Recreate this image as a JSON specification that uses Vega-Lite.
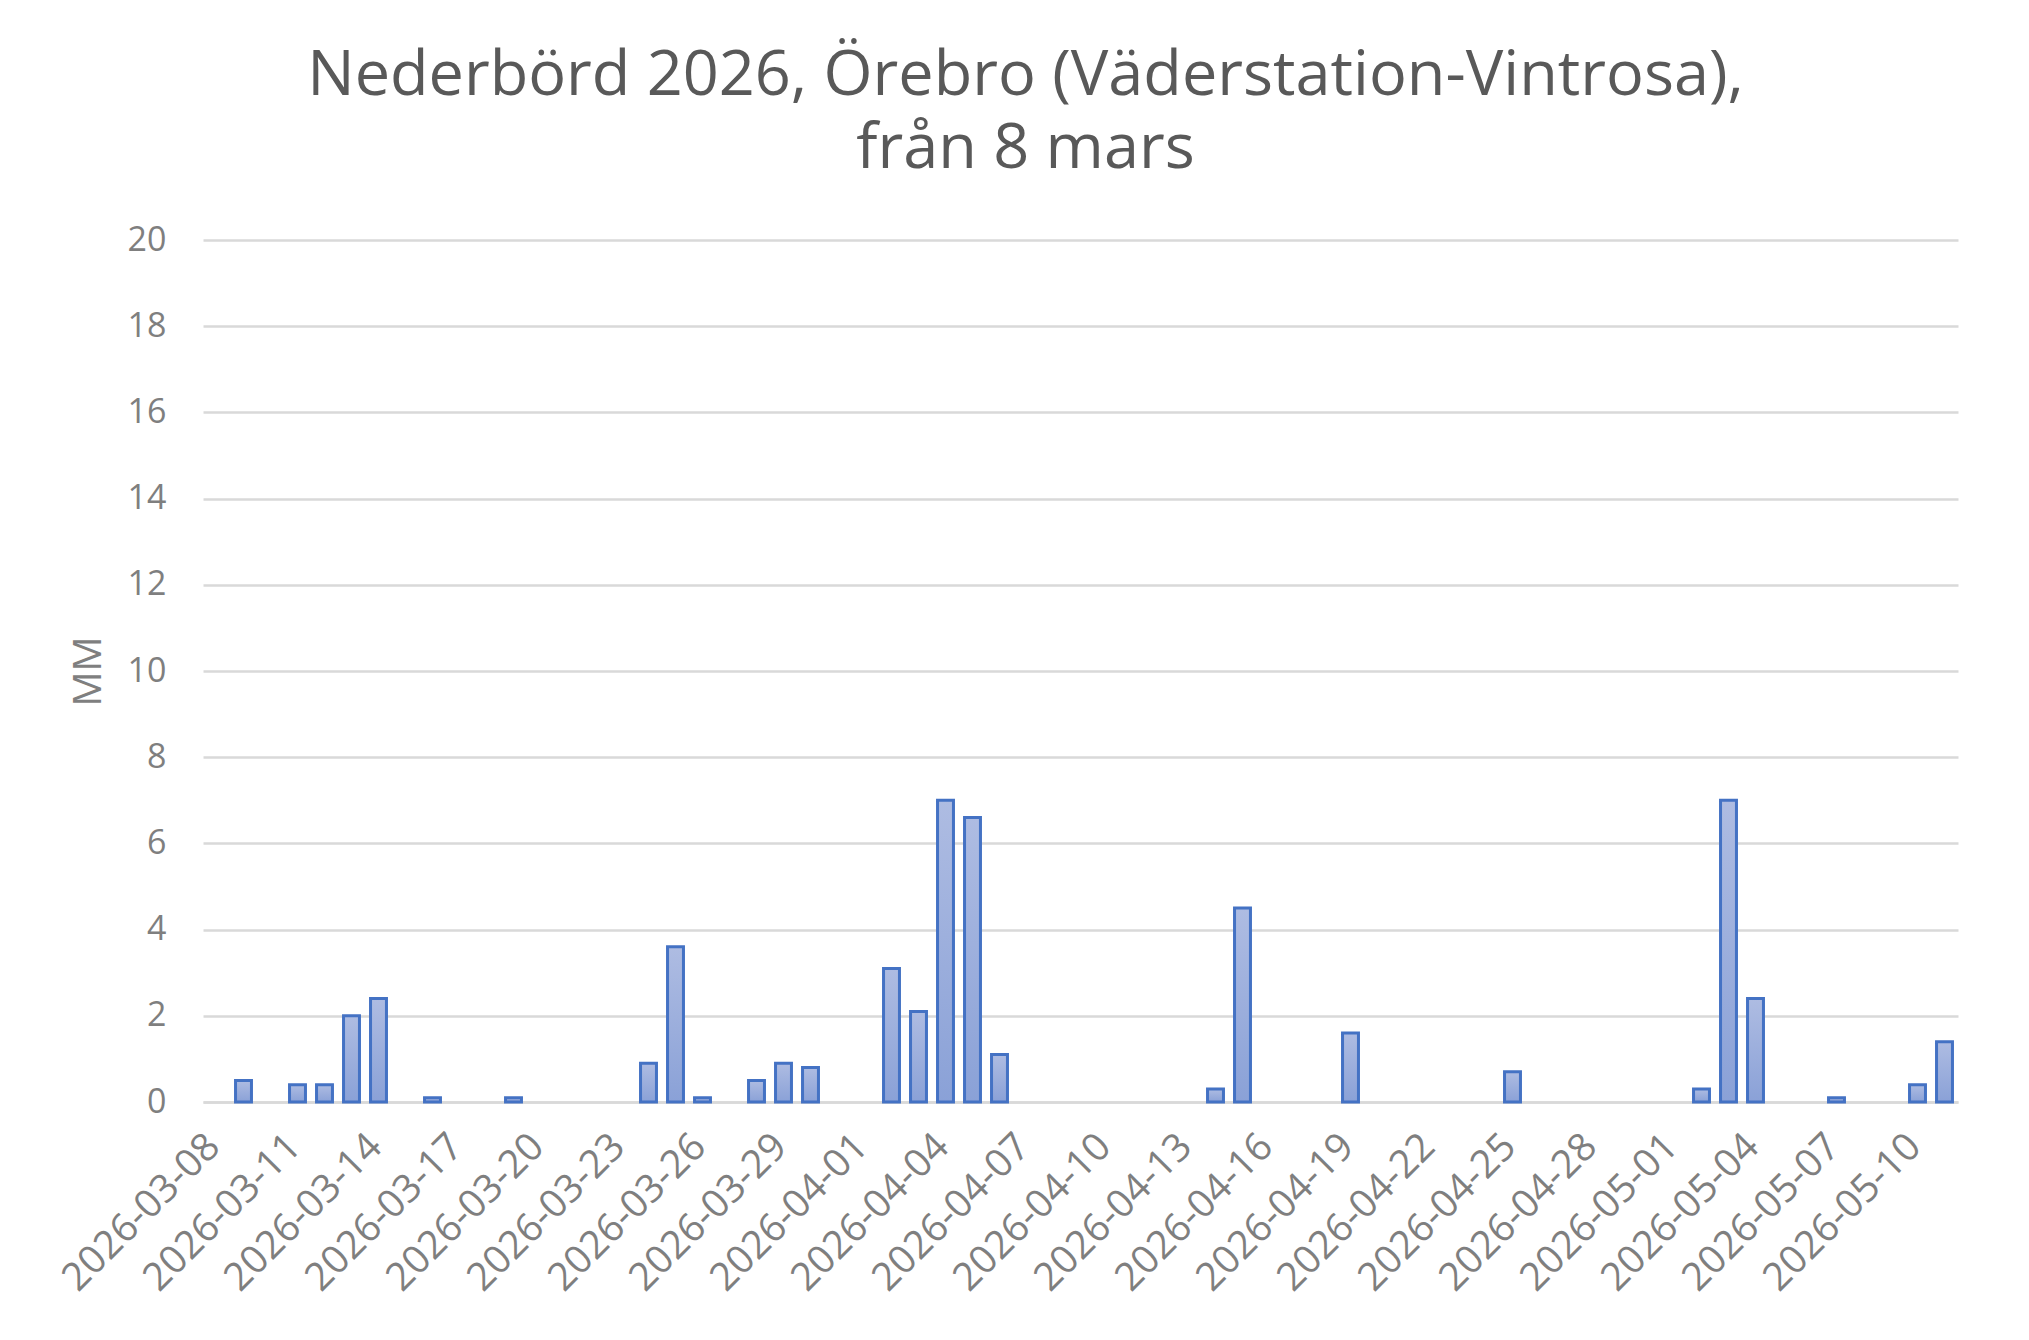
{
  "$schema": "https://vega.github.io/schema/vega-lite/v6.json",
  "autosize": {"type": "none"},
  "width": 1755,
  "height": 862,
  "padding": {"left": 203, "top": 240, "right": 71, "bottom": 238},
  "background": "white",
  "title": {
    "text": ["Nederbörd 2026, Örebro (Väderstation-Vintrosa),", "från 8 mars"],
    "font": "Open Sans",
    "fontSize": 63,
    "fontWeight": "normal",
    "color": "#595959",
    "lineHeight": 73,
    "anchor": "middle",
    "dx": -55,
    "offset": 42
  },
  "data": {
    "values": [
      {"date": "2026-03-08", "mm": 0},
      {"date": "2026-03-09", "mm": 0.5},
      {"date": "2026-03-10", "mm": 0},
      {"date": "2026-03-11", "mm": 0.4},
      {"date": "2026-03-12", "mm": 0.4},
      {"date": "2026-03-13", "mm": 2.0},
      {"date": "2026-03-14", "mm": 2.4},
      {"date": "2026-03-15", "mm": 0},
      {"date": "2026-03-16", "mm": 0.1},
      {"date": "2026-03-17", "mm": 0},
      {"date": "2026-03-18", "mm": 0},
      {"date": "2026-03-19", "mm": 0.1},
      {"date": "2026-03-20", "mm": 0},
      {"date": "2026-03-21", "mm": 0},
      {"date": "2026-03-22", "mm": 0},
      {"date": "2026-03-23", "mm": 0},
      {"date": "2026-03-24", "mm": 0.9},
      {"date": "2026-03-25", "mm": 3.6},
      {"date": "2026-03-26", "mm": 0.1},
      {"date": "2026-03-27", "mm": 0},
      {"date": "2026-03-28", "mm": 0.5},
      {"date": "2026-03-29", "mm": 0.9},
      {"date": "2026-03-30", "mm": 0.8},
      {"date": "2026-03-31", "mm": 0},
      {"date": "2026-04-01", "mm": 0},
      {"date": "2026-04-02", "mm": 3.1},
      {"date": "2026-04-03", "mm": 2.1},
      {"date": "2026-04-04", "mm": 7.0},
      {"date": "2026-04-05", "mm": 6.6},
      {"date": "2026-04-06", "mm": 1.1},
      {"date": "2026-04-07", "mm": 0},
      {"date": "2026-04-08", "mm": 0},
      {"date": "2026-04-09", "mm": 0},
      {"date": "2026-04-10", "mm": 0},
      {"date": "2026-04-11", "mm": 0},
      {"date": "2026-04-12", "mm": 0},
      {"date": "2026-04-13", "mm": 0},
      {"date": "2026-04-14", "mm": 0.3},
      {"date": "2026-04-15", "mm": 4.5},
      {"date": "2026-04-16", "mm": 0},
      {"date": "2026-04-17", "mm": 0},
      {"date": "2026-04-18", "mm": 0},
      {"date": "2026-04-19", "mm": 1.6},
      {"date": "2026-04-20", "mm": 0},
      {"date": "2026-04-21", "mm": 0},
      {"date": "2026-04-22", "mm": 0},
      {"date": "2026-04-23", "mm": 0},
      {"date": "2026-04-24", "mm": 0},
      {"date": "2026-04-25", "mm": 0.7},
      {"date": "2026-04-26", "mm": 0},
      {"date": "2026-04-27", "mm": 0},
      {"date": "2026-04-28", "mm": 0},
      {"date": "2026-04-29", "mm": 0},
      {"date": "2026-04-30", "mm": 0},
      {"date": "2026-05-01", "mm": 0},
      {"date": "2026-05-02", "mm": 0.3},
      {"date": "2026-05-03", "mm": 7.0},
      {"date": "2026-05-04", "mm": 2.4},
      {"date": "2026-05-05", "mm": 0},
      {"date": "2026-05-06", "mm": 0},
      {"date": "2026-05-07", "mm": 0.1},
      {"date": "2026-05-08", "mm": 0},
      {"date": "2026-05-09", "mm": 0},
      {"date": "2026-05-10", "mm": 0.4},
      {"date": "2026-05-11", "mm": 1.4}
    ]
  },
  "mark": {
    "type": "bar",
    "fill": {
      "gradient": "linear",
      "x1": 0, "y1": 0, "x2": 0, "y2": 1,
      "stops": [
        {"offset": 0, "color": "#aebce2"},
        {"offset": 1, "color": "#8aa1d7"}
      ]
    },
    "stroke": "#4472c4",
    "strokeWidth": 3
  },
  "encoding": {
    "x": {
      "field": "date",
      "type": "ordinal",
      "sort": "ascending",
      "scale": {"paddingInner": 0.41, "paddingOuter": 0.205},
      "axis": {
        "title": null,
        "values": ["2026-03-08","2026-03-11","2026-03-14","2026-03-17","2026-03-20","2026-03-23","2026-03-26","2026-03-29","2026-04-01","2026-04-04","2026-04-07","2026-04-10","2026-04-13","2026-04-16","2026-04-19","2026-04-22","2026-04-25","2026-04-28","2026-05-01","2026-05-04","2026-05-07","2026-05-10"],
        "labelAngle": -45,
        "labelAlign": "right",
        "labelBaseline": "middle",
        "labelFont": "Open Sans",
        "labelFontSize": 39,
        "labelColor": "#7f7f7f",
        "labelPadding": 38,
        "labelOffset": -3,
        "labelLimit": 600,
        "labelOverlap": false,
        "ticks": false,
        "grid": false,
        "domainColor": "#d9d9d9",
        "domainWidth": 2.5
      }
    },
    "y": {
      "field": "mm",
      "type": "quantitative",
      "scale": {"domain": [0, 20]},
      "axis": {
        "title": "MM",
        "titleFont": "Open Sans",
        "titleFontSize": 39,
        "titleFontWeight": "normal",
        "titleColor": "#7f7f7f",
        "titlePadding": 19,
        "values": [0, 2, 4, 6, 8, 10, 12, 14, 16, 18, 20],
        "labelFont": "Open Sans",
        "labelFontSize": 34,
        "labelColor": "#7f7f7f",
        "labelPadding": 37,
        "ticks": false,
        "domain": false,
        "grid": true,
        "gridColor": "#d9d9d9",
        "gridWidth": 2.5
      }
    },
    "strokeOpacity": {
      "condition": {"test": "datum.mm > 0", "value": 1},
      "value": 0
    },
    "tooltip": [{"field": "date"}, {"field": "mm"}]
  },
  "config": {
    "view": {"stroke": null}
  }
}
